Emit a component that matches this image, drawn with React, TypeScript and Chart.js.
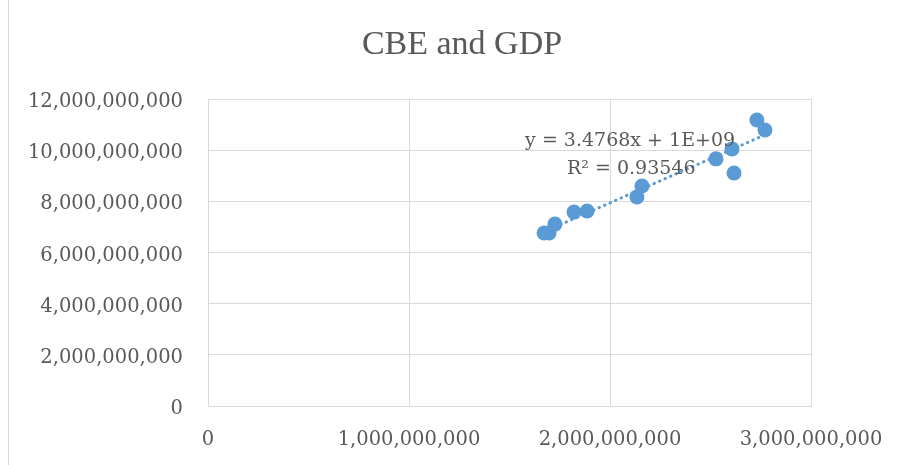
import React, { useEffect, useRef } from "react";
import { Chart, registerables } from "chart.js";

Chart.register(...registerables);

// Data
const gdpValues = [1.672e9, 1.697e9, 1.726e9, 1.821e9, 1.886e9, 2.134e9, 2.159e9, 2.527e9, 2.607e9, 2.617e9, 2.731e9, 2.771e9];
const cbeValues = [6.76e9, 6.76e9, 7.11e9, 7.58e9, 7.62e9, 8.17e9, 8.6e9, 9.66e9, 10.05e9, 9.11e9, 11.18e9, 10.79e9];
const xTickValues = [0, 1e9, 2e9, 3e9];
const yTickValues = [0, 2e9, 4e9, 6e9, 8e9, 10e9, 12e9];
const chartTitle = "CBE and GDP";
const equationText = "y = 3.4768x + 1E+09";
const rSquaredText = "R\u00B2 = 0.93546";

const BLUE = "#5b9bd5";
const GRID = "#d9d9d9";
const TEXT = "#595959";
const TICK_FONT = "DejaVu Serif";

function leastSquares(xs: number[], ys: number[]) {
  const n = xs.length;
  const mx = xs.reduce((a, b) => a + b, 0) / n;
  const my = ys.reduce((a, b) => a + b, 0) / n;
  let sxy = 0;
  let sxx = 0;
  for (let i = 0; i < n; i++) {
    sxy += (xs[i] - mx) * (ys[i] - my);
    sxx += (xs[i] - mx) * (xs[i] - mx);
  }
  const slope = sxy / sxx;
  return { slope, intercept: my - slope * mx };
}

export default function App() {
  const canvasRef = useRef<HTMLCanvasElement | null>(null);

  useEffect(() => {
    if (!canvasRef.current) return;
    const fit = leastSquares(gdpValues, cbeValues);
    const xMin = Math.min(...gdpValues);
    const xMax = Math.max(...gdpValues);
    const trend = [
      { x: xMin, y: fit.slope * xMin + fit.intercept },
      { x: xMax, y: fit.slope * xMax + fit.intercept },
    ];
    const points = gdpValues.map((x, i) => ({ x, y: cbeValues[i] }));

    const labelPlugin = {
      id: "trendLabel",
      afterDatasetsDraw(chart: any) {
        const { ctx, chartArea } = chart;
        const w = chartArea.right - chartArea.left;
        const h = chartArea.bottom - chartArea.top;
        ctx.save();
        ctx.font = `19px "${TICK_FONT}"`;
        ctx.fillStyle = TEXT;
        ctx.textAlign = "center";
        ctx.textBaseline = "middle";
        ctx.fillText(equationText, chartArea.left + w * 0.7, chartArea.top + h * 0.137);
        ctx.fillText(rSquaredText, chartArea.left + w * 0.702, chartArea.top + h * 0.228);
        ctx.restore();
      },
    };

    const chart = new Chart(canvasRef.current, {
      type: "scatter",
      data: {
        datasets: [
          {
            label: "CBE",
            data: points,
            backgroundColor: BLUE,
            borderColor: BLUE,
            pointRadius: 7.5,
            pointBorderWidth: 0,
            pointHoverRadius: 7.5,
            order: 2,
          },
          {
            label: "Trend",
            type: "line",
            data: trend,
            borderColor: BLUE,
            borderWidth: 3,
            borderDash: [0.5, 5.5],
            borderCapStyle: "round",
            pointRadius: 0,
            fill: false,
            order: 1,
          } as any,
        ],
      },
      options: {
        animation: false,
        responsive: false,
        maintainAspectRatio: false,
        layout: { padding: { left: 20, right: 0, top: 0, bottom: 0 } },
        plugins: {
          legend: { display: false },
          tooltip: { enabled: false },
          title: {
            display: true,
            text: chartTitle,
            color: TEXT,
            font: { family: "Liberation Serif", size: 34, weight: "normal" },
            padding: { top: 24.5, bottom: 33.7 },
          },
        },
        scales: {
          x: {
            type: "linear",
            min: xTickValues[0],
            max: xTickValues[xTickValues.length - 1],
            afterBuildTicks: (s: any) => {
              s.ticks = xTickValues.map((v) => ({ value: v }));
            },
            afterFit: (s: any) => {
              s.height = 59;
              s.paddingLeft = 0;
              s.paddingRight = 93;
            },
            grid: { color: GRID, drawTicks: false, lineWidth: 1 },
            border: { color: GRID },
            ticks: {
              color: TEXT,
              padding: 22,
              font: { family: TICK_FONT, size: 19.5 },
              maxRotation: 0,
              autoSkip: false,
              callback: (v: any) => Number(v).toLocaleString("en-US"),
            },
          },
          y: {
            type: "linear",
            min: yTickValues[0],
            max: yTickValues[yTickValues.length - 1],
            afterBuildTicks: (s: any) => {
              s.ticks = yTickValues.map((v) => ({ value: v }));
            },
            afterFit: (s: any) => {
              s.width = 188;
            },
            grid: { color: GRID, drawTicks: false, lineWidth: 1 },
            border: { color: GRID },
            ticks: {
              color: TEXT,
              padding: 25,
              labelOffset: 3,
              font: { family: TICK_FONT, size: 19.5 },
              autoSkip: false,
              callback: (v: any) => Number(v).toLocaleString("en-US"),
            },
          },
        },
      },
      plugins: [labelPlugin],
    });

    return () => chart.destroy();
  }, []);

  return (
    <div
      style={{
        position: "absolute",
        left: 0,
        top: 0,
        width: 904,
        height: 465,
        background: "#ffffff",
      }}
    >
      <div
        style={{
          position: "absolute",
          left: 8,
          top: 0,
          width: 1,
          height: 465,
          background: GRID,
        }}
      />
      <canvas ref={canvasRef} width={904} height={465} style={{ position: "absolute", left: 0, top: 0 }} />
    </div>
  );
}
